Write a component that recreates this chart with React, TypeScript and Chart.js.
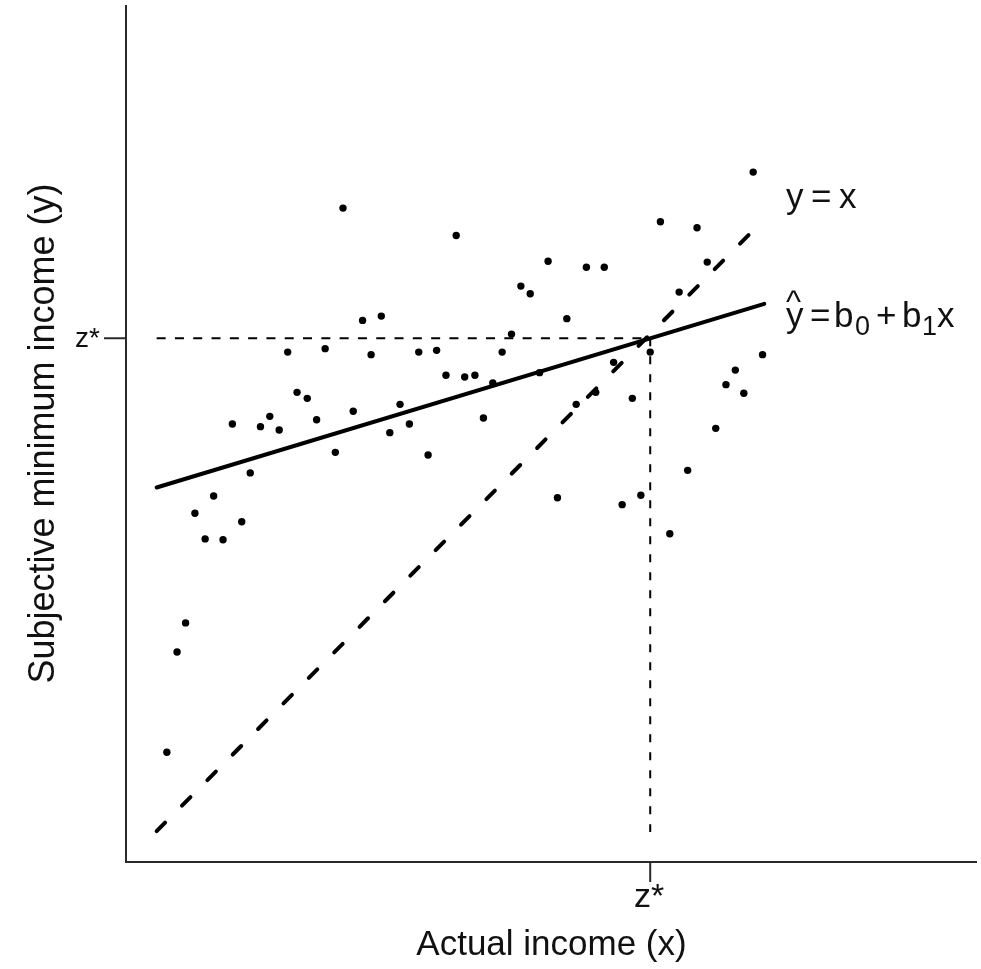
import React, { useEffect, useRef } from "react";
import { Chart, registerables } from "chart.js";

Chart.register(...registerables);

// Observations: actual income (x) and subjective minimum income (y), arbitrary units
const incomeX = [4.8, 6.0, 7.0, 8.1, 9.3, 10.3, 11.4, 12.5, 13.6, 14.6, 15.8, 16.9, 18.0, 19.0, 20.1, 21.3, 22.4, 23.4, 24.6, 25.5, 26.7, 27.8, 28.8, 30.0, 31.0, 32.2, 33.3, 34.4, 35.5, 36.5, 37.6, 38.8, 39.8, 41.0, 42.0, 43.1, 44.2, 45.3, 46.4, 47.5, 48.6, 49.6, 50.7, 51.8, 52.9, 54.1, 55.2, 56.2, 57.3, 58.3, 59.5, 60.5, 61.6, 62.8, 63.9, 65.0, 66.0, 67.1, 68.3, 69.3, 70.5, 71.6, 72.6, 73.7, 74.8];
const minIncomeY = [12.8, 24.5, 27.9, 40.7, 37.7, 42.7, 37.6, 51.1, 39.7, 45.4, 50.8, 52.0, 50.4, 59.5, 54.8, 54.1, 51.6, 59.9, 47.8, 76.3, 52.6, 63.2, 59.2, 63.7, 50.1, 53.4, 51.1, 59.5, 47.5, 59.7, 56.8, 73.1, 56.6, 56.8, 51.8, 55.9, 59.5, 61.6, 67.2, 66.3, 57.1, 70.1, 42.5, 63.4, 53.4, 69.4, 54.8, 69.4, 58.3, 41.7, 54.1, 42.8, 59.5, 74.7, 38.3, 66.5, 45.7, 74.0, 70.0, 50.6, 55.7, 57.4, 54.7, 80.5, 59.2];

// z* : intersection of regression line and y = x
const zStarX = 61.6;
const zStarY = 61.1;
const b1 = 0.3;
const b0 = zStarY - b1 * zStarX;
const lineStartX = 3.6;
const regEndX = 75.0;
const diagEndX = 74.8;
const vertBottomY = 3.5;

const axisMin = 0;
const axisMax = 100;

const tickLabelZ = "z*";
const xTitle = "Actual income (x)";
const yTitle = "Subjective minimum income (y)";

const FONT = '"Liberation Sans", Arial, Helvetica, sans-serif';

const annotationPlugin = {
  id: "annot",
  afterDraw(chart: any) {
    const ctx: CanvasRenderingContext2D = chart.ctx;
    const xs = chart.scales.x;
    const ys = chart.scales.y;
    const left = xs.getPixelForValue(axisMin);
    const right = xs.getPixelForValue(axisMax);
    const bottom = ys.getPixelForValue(axisMin);
    const top = ys.getPixelForValue(axisMax);
    ctx.save();
    ctx.strokeStyle = "#2a2a2a";
    ctx.lineWidth = 2;
    ctx.beginPath();
    ctx.moveTo(left, top);
    ctx.lineTo(left, bottom);
    ctx.lineTo(right, bottom);
    ctx.stroke();
    // ticks at z*
    const zx = xs.getPixelForValue(zStarX);
    const zy = ys.getPixelForValue(zStarY);
    ctx.beginPath();
    ctx.moveTo(left, zy);
    ctx.lineTo(left - 22, zy);
    ctx.moveTo(zx, bottom);
    ctx.lineTo(zx, bottom + 20);
    ctx.stroke();

    ctx.fillStyle = "#111";
    // z* labels
    ctx.font = `28px ${FONT}`;
    ctx.textAlign = "right";
    ctx.textBaseline = "alphabetic";
    ctx.fillText(tickLabelZ, left - 26, zy + 9);
    ctx.font = `34px ${FONT}`;
    ctx.textAlign = "center";
    ctx.fillText(tickLabelZ, zx - 1, bottom + 45);

    // axis titles
    ctx.font = `35px ${FONT}`;
    ctx.textAlign = "center";
    ctx.textBaseline = "middle";
    ctx.fillText(xTitle, (left + right) / 2, 945);
    ctx.save();
    ctx.font = `36px ${FONT}`;
    ctx.translate(44, (top + bottom) / 2);
    ctx.rotate(-Math.PI / 2);
    ctx.fillText(yTitle, 0, 0);
    ctx.restore();

    // line labels
    ctx.textBaseline = "alphabetic";
    ctx.textAlign = "left";
    ctx.font = `35px ${FONT}`;
    const b1row = 208;
    ctx.fillText("y", 786, b1row);
    ctx.fillText("=", 811, b1row);
    ctx.fillText("x", 839, b1row);

    const b2row = 327;
    ctx.fillText("y", 786, b2row);
    ctx.font = `32px ${FONT}`;
    ctx.fillText("^", 786, b2row - 15);
    ctx.font = `35px ${FONT}`;
    ctx.fillText("=", 810, b2row);
    ctx.fillText("b", 834, b2row);
    ctx.fillText("+", 876, b2row);
    ctx.fillText("b", 902, b2row);
    ctx.fillText("x", 937, b2row);
    ctx.font = `27px ${FONT}`;
    ctx.fillText("0", 855, b2row + 8);
    ctx.fillText("1", 922, b2row + 8);
    ctx.restore();
  },
};

export default function App() {
  const ref = useRef<HTMLCanvasElement>(null);
  useEffect(() => {
    const points = incomeX.map((x, i) => ({ x, y: minIncomeY[i] }));
    const reg = [lineStartX, regEndX].map((x) => ({ x, y: b0 + b1 * x }));
    const diag = [lineStartX, diagEndX].map((x) => ({ x, y: x }));
    const hz = [
      { x: lineStartX, y: zStarY },
      { x: zStarX, y: zStarY },
    ];
    const vt = [
      { x: zStarX, y: zStarY },
      { x: zStarX, y: vertBottomY },
    ];
    const lineDs = (data: any[], width: number, dash: number[], cap: any) => ({
      type: "scatter" as const,
      data,
      showLine: true,
      borderColor: "#000",
      borderWidth: width,
      borderDash: dash,
      borderCapStyle: cap,
      pointRadius: 0,
      fill: false,
      order: 1,
    });
    const chart = new Chart(ref.current!, {
      type: "scatter",
      data: {
        datasets: [
          {
            type: "scatter",
            data: points,
            pointRadius: 3.7,
            pointBackgroundColor: "#000",
            pointBorderWidth: 0,
            borderColor: "#000",
            order: 0,
          } as any,
          lineDs(reg, 4, [], "round"),
          lineDs(diag, 4, [12, 24], "round"),
          lineDs(hz, 2, [9, 9.3], "butt"),
          lineDs(vt, 2, [8, 10], "butt"),
        ],
      },
      options: {
        responsive: false,
        animation: false,
        devicePixelRatio: 1,
        layout: { padding: { left: 126, right: 1, top: 5, bottom: 107 } },
        plugins: { legend: { display: false }, tooltip: { enabled: false } },
        scales: {
          x: { type: "linear", min: axisMin, max: axisMax, display: false },
          y: { type: "linear", min: axisMin, max: axisMax, display: false },
        },
      },
      plugins: [annotationPlugin],
    });
    return () => chart.destroy();
  }, []);
  return (
    <div style={{ position: "fixed", left: 0, top: 0, width: 981, height: 969, background: "#fff" }}>
      <canvas ref={ref} width={981} height={969} style={{ display: "block" }} />
    </div>
  );
}
